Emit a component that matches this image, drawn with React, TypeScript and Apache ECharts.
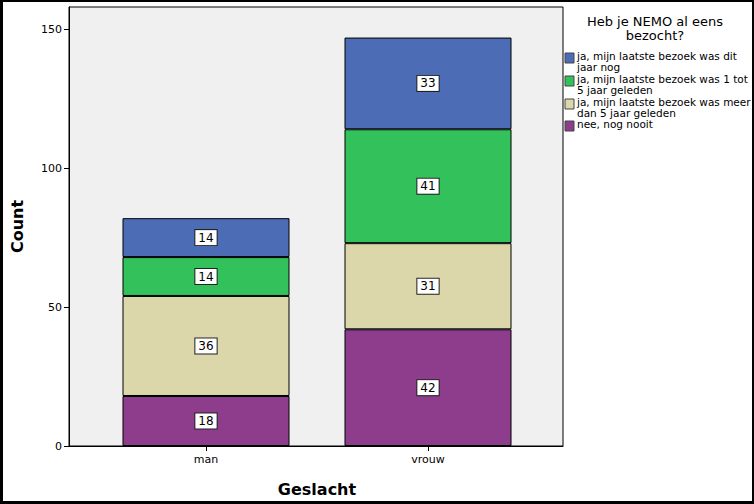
import React, { useEffect, useRef } from "react";
import * as echarts from "echarts";

const categories = ["man", "vrouw"];
// stacked bottom to top
const seriesNames = [
  "nee, nog nooit",
  "ja, mijn laatste bezoek was meer\ndan 5 jaar geleden",
  "ja, mijn laatste bezoek was 1 tot\n5 jaar geleden",
  "ja, mijn laatste bezoek was dit\njaar nog",
];
const nooit = [18, 42];
const meerDan5 = [36, 31];
const eenTot5 = [14, 41];
const ditJaar = [14, 33];
const seriesValues = [nooit, meerDan5, eenTot5, ditJaar];
const seriesColors = ["#8E3D8D", "#DCD7AA", "#33C15B", "#4C6CB6"];
const yTicks = [0, 50, 100, 150];
const legendTitle = "Heb je NEMO al eens\nbezocht?";
const xTitle = "Geslacht";
const yTitle = "Count";

const FONT = "DejaVu Sans";

export default function App() {
  const ref = useRef<HTMLDivElement>(null);
  useEffect(() => {
    document.body.style.margin = "0";
    const chart = echarts.init(ref.current!, null, { renderer: "svg" });
    const legendOrder = [3, 2, 1, 0];
    const legendTops = [53, 76, 99, 121];
    const graphic: any[] = [
      {
        type: "text",
        x: 655,
        y: 14,
        style: {
          text: legendTitle,
          fontFamily: FONT,
          fontSize: 13,
          lineHeight: 14,
          fill: "#000",
          align: "center",
          verticalAlign: "top",
        },
      },
    ];
    legendOrder.forEach((si, k) => {
      graphic.push({
        type: "rect",
        shape: { x: 565, y: legendTops[k], width: 9, height: 10 },
        style: { fill: seriesColors[si], stroke: "#444", lineWidth: 1 },
      });
      graphic.push({
        type: "text",
        x: 577,
        y: legendTops[k] - 3,
        style: {
          text: seriesNames[si],
          fontFamily: FONT,
          fontSize: 10.5,
          lineHeight: 11,
          fill: "#000",
          verticalAlign: "top",
        },
      });
    });

    const yMax = 158;
    const option: any = {
      animation: false,
      backgroundColor: "#fff",
      textStyle: { fontFamily: FONT },
      grid: [
        {
          left: 69,
          right: 191,
          top: 7,
          bottom: 58,
          show: true,
          backgroundColor: "#F0F0F0",
          borderColor: "#000",
          borderWidth: 1,
        },
        {
          left: 95,
          right: 215,
          top: 7,
          bottom: 58,
        },
      ],
      xAxis: [
        {
          gridIndex: 0,
          type: "value",
          min: 0,
          max: 1,
          splitLine: { show: false },
          axisLine: { show: true, onZero: false, lineStyle: { color: "#000", width: 1 } },
          axisTick: { show: false },
          axisLabel: { show: false },
        },
        {
          gridIndex: 1,
          type: "category",
          data: categories,
          splitLine: { show: false },
          axisLine: { show: false, onZero: false },
          axisTick: { show: true, alignWithLabel: true, length: 5, lineStyle: { color: "#000" } },
          axisLabel: {
            color: "#000",
            fontSize: 11,
            fontFamily: FONT,
            margin: 8,
          },
          name: xTitle,
          nameLocation: "middle",
          nameGap: 35,
          nameTextStyle: { fontSize: 16, fontWeight: "bold", color: "#000", fontFamily: FONT },
        },
      ],
      yAxis: [
        {
          gridIndex: 0,
          type: "value",
          min: 0,
          max: yMax,
          splitLine: { show: false },
          axisLine: { show: true, onZero: false, lineStyle: { color: "#000", width: 1 } },
          axisTick: { show: true, customValues: yTicks, length: 5, lineStyle: { color: "#000" } },
          axisLabel: {
            customValues: yTicks,
            color: "#000",
            fontSize: 11,
            fontFamily: FONT,
            margin: 7,
          },
          name: yTitle,
          nameLocation: "middle",
          nameGap: 44,
          nameRotate: 90,
          nameTextStyle: { fontSize: 16, fontWeight: "bold", color: "#000", fontFamily: FONT },
        },
        {
          gridIndex: 1,
          type: "value",
          min: 0,
          max: yMax,
          show: false,
          splitLine: { show: false },
        },
      ],
      graphic,
      series: seriesValues.map((vals, si) => ({
        type: "bar",
        name: seriesNames[si],
        stack: "total",
        xAxisIndex: 1,
        yAxisIndex: 1,
        barWidth: 167,
        data: vals,
        itemStyle: { color: seriesColors[si], borderColor: "#000", borderWidth: 1 },
        label: {
          show: true,
          position: "inside",
          backgroundColor: "#fff",
          borderColor: "#222",
          borderWidth: 1,
          padding: [2, 3, 1, 3],
          color: "#000",
          fontSize: 12,
          fontFamily: FONT,
        },
      })),
    };
    chart.setOption(option);
    return () => chart.dispose();
  }, []);
  return (
    <div style={{ position: "absolute", left: 0, top: 0, width: 754, height: 504 }}>
      <div ref={ref} style={{ position: "absolute", left: 0, top: 0, width: 754, height: 504 }} />
      <div
        style={{
          position: "absolute",
          left: 0,
          top: 0,
          width: 754,
          height: 504,
          boxSizing: "border-box",
          borderStyle: "solid",
          borderColor: "#000",
          borderWidth: "2px 2px 3px 3px",
          pointerEvents: "none",
        }}
      />
    </div>
  );
}
